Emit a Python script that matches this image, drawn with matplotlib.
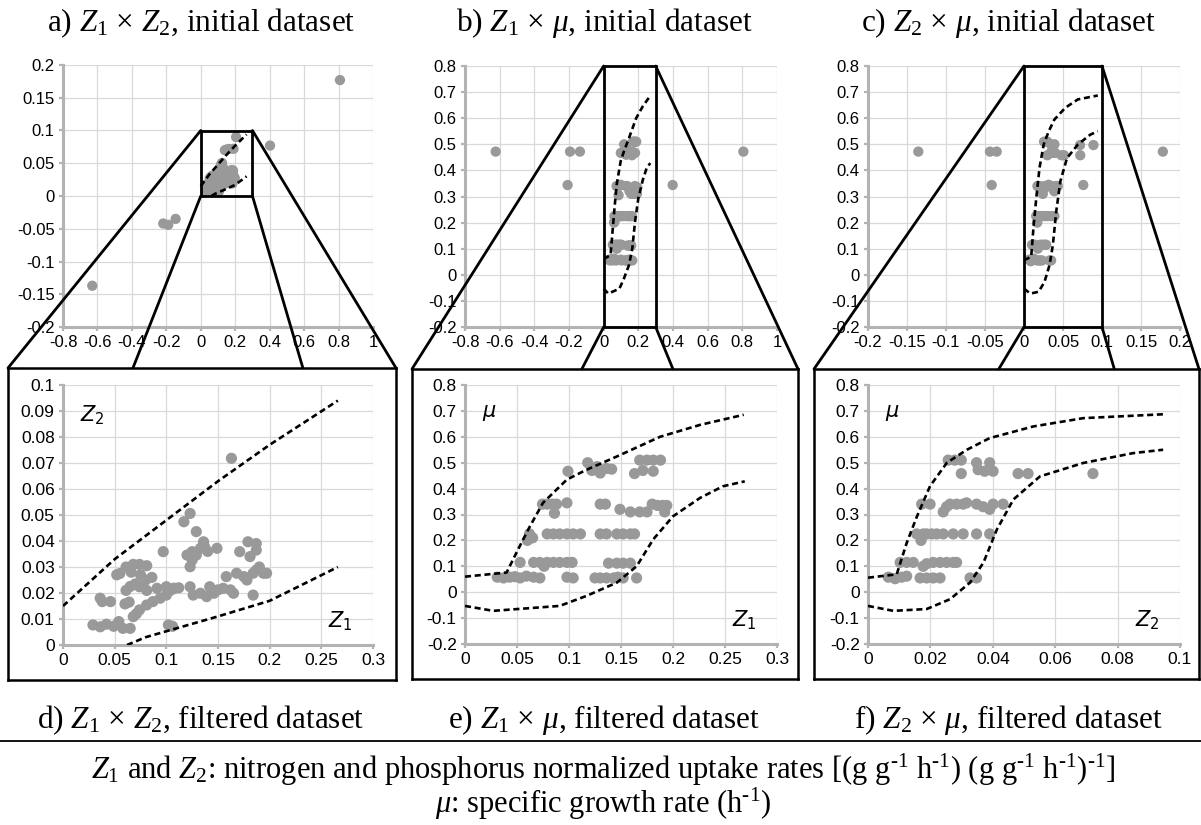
import matplotlib
matplotlib.use("Agg")
import matplotlib.pyplot as plt
from matplotlib.patches import Rectangle, ConnectionPatch
from matplotlib.lines import Line2D
from matplotlib.ticker import MultipleLocator, FuncFormatter

plt.rcParams.update({
    "font.family": "Liberation Sans",
    "mathtext.fontset": "custom",
    "mathtext.rm": "Liberation Serif",
    "mathtext.it": "Liberation Serif:italic",
    "mathtext.bf": "Liberation Serif:bold",
    "axes.unicode_minus": False,
})

# ---- filtered dataset ----
d_points = [  # (Z1, Z2)
    (0.029, 0.0077), (0.036, 0.0070), (0.042, 0.0080), (0.049, 0.0072), (0.054, 0.0090),
    (0.058, 0.0064), (0.065, 0.0064), (0.102, 0.0077), (0.106, 0.0072),
    (0.036, 0.0180), (0.038, 0.0167), (0.046, 0.0167), (0.060, 0.0158), (0.064, 0.0165),
    (0.052, 0.0270), (0.055, 0.0275), (0.061, 0.0300), (0.068, 0.0310), (0.074, 0.0310),
    (0.081, 0.0305), (0.086, 0.0260), (0.075, 0.0270), (0.080, 0.0250), (0.070, 0.0235),
    (0.066, 0.0280),
    (0.068, 0.0109), (0.071, 0.0120), (0.074, 0.0135), (0.081, 0.0154), (0.087, 0.0167),
    (0.094, 0.0180), (0.100, 0.0192), (0.107, 0.0218),
    (0.061, 0.0210), (0.065, 0.0225), (0.074, 0.0224), (0.081, 0.0210), (0.091, 0.0218),
    (0.100, 0.0224), (0.104, 0.0210), (0.108, 0.0218), (0.112, 0.0220),
    (0.097, 0.0359),
    (0.117, 0.0474), (0.123, 0.0506), (0.129, 0.0436),
    (0.120, 0.0346), (0.125, 0.0359), (0.123, 0.0301), (0.125, 0.0327), (0.129, 0.0346),
    (0.133, 0.0372), (0.136, 0.0397), (0.137, 0.0378), (0.140, 0.0360), (0.149, 0.0372),
    (0.123, 0.0224), (0.126, 0.0192), (0.133, 0.0199), (0.139, 0.0186), (0.142, 0.0224),
    (0.146, 0.0199), (0.150, 0.0212), (0.155, 0.0218), (0.162, 0.0212), (0.165, 0.0199),
    (0.158, 0.0263), (0.168, 0.0276), (0.175, 0.0263), (0.178, 0.0250), (0.184, 0.0276),
    (0.187, 0.0288), (0.194, 0.0276), (0.197, 0.0276), (0.190, 0.0300),
    (0.171, 0.0359), (0.179, 0.0397), (0.187, 0.0390), (0.181, 0.0340), (0.187, 0.0365),
    (0.184, 0.0192), (0.163, 0.0718),
]
e_points = [  # (Z1, mu)
    (0.031, 0.058), (0.037, 0.055), (0.043, 0.058), (0.048, 0.060), (0.053, 0.055),
    (0.059, 0.062), (0.066, 0.058), (0.072, 0.055), (0.098, 0.058), (0.104, 0.055),
    (0.125, 0.055), (0.130, 0.055), (0.136, 0.055), (0.143, 0.055), (0.147, 0.058),
    (0.152, 0.055), (0.165, 0.055),
    (0.053, 0.115), (0.066, 0.115), (0.072, 0.115), (0.076, 0.100), (0.079, 0.115),
    (0.085, 0.115), (0.091, 0.115), (0.098, 0.115), (0.103, 0.115), (0.138, 0.112),
    (0.146, 0.112), (0.152, 0.112), (0.159, 0.112),
    (0.060, 0.200), (0.062, 0.225), (0.065, 0.210), (0.079, 0.225), (0.085, 0.225),
    (0.091, 0.225), (0.098, 0.225), (0.104, 0.225), (0.111, 0.225), (0.130, 0.225),
    (0.136, 0.225), (0.146, 0.225), (0.152, 0.225), (0.159, 0.225), (0.163, 0.225),
    (0.0745, 0.340), (0.079, 0.340), (0.084, 0.340), (0.088, 0.340), (0.086, 0.305),
    (0.098, 0.345), (0.130, 0.340), (0.135, 0.340), (0.149, 0.320), (0.159, 0.310),
    (0.168, 0.310), (0.175, 0.310), (0.180, 0.340), (0.185, 0.335), (0.190, 0.335),
    (0.194, 0.335), (0.192, 0.310),
    (0.099, 0.467), (0.118, 0.500), (0.122, 0.470), (0.127, 0.485), (0.130, 0.460),
    (0.136, 0.478), (0.141, 0.475), (0.163, 0.458), (0.171, 0.470), (0.181, 0.467),
    (0.168, 0.510), (0.175, 0.510), (0.181, 0.510), (0.188, 0.510),
]
f_points = [  # (Z2, mu)
    (0.0065, 0.058), (0.0087, 0.052), (0.0108, 0.058), (0.0124, 0.062), (0.0167, 0.055),
    (0.0188, 0.055), (0.0209, 0.055), (0.0231, 0.055), (0.0327, 0.055), (0.0348, 0.055),
    (0.0103, 0.115), (0.0124, 0.115), (0.0145, 0.115), (0.0177, 0.100), (0.0188, 0.110),
    (0.0209, 0.115), (0.0231, 0.115), (0.0252, 0.115), (0.0273, 0.115), (0.0284, 0.115),
    (0.0156, 0.225), (0.0170, 0.200), (0.0177, 0.225), (0.0188, 0.225), (0.0204, 0.225),
    (0.0220, 0.225), (0.0241, 0.225), (0.0273, 0.225), (0.0305, 0.225), (0.0348, 0.225),
    (0.0390, 0.225),
    (0.0172, 0.340), (0.0199, 0.340), (0.0241, 0.310), (0.0252, 0.330), (0.0263, 0.340),
    (0.0284, 0.340), (0.0305, 0.340), (0.0316, 0.345), (0.0348, 0.340), (0.0369, 0.330),
    (0.0390, 0.320), (0.0401, 0.340), (0.0433, 0.340),
    (0.0257, 0.510), (0.0278, 0.510), (0.0299, 0.510), (0.0299, 0.458), (0.0348, 0.500),
    (0.0353, 0.473), (0.0374, 0.467), (0.0390, 0.500), (0.0401, 0.467), (0.0481, 0.458),
    (0.0513, 0.458), (0.0721, 0.458),
]

# ---- extra points that only exist in the initial dataset ----
a_outliers = [(0.808, 0.177), (0.402, 0.077), (-0.218, -0.042), (-0.189, -0.044),
              (-0.146, -0.035), (-0.630, -0.137), (0.140, 0.070), (0.150, 0.071),
              (0.190, 0.072), (0.205, 0.090)]
b_outliers = [(-0.623, 0.472), (-0.194, 0.472), (-0.137, 0.472), (-0.208, 0.344),
              (0.398, 0.344), (0.806, 0.472)]
c_outliers = [(-0.1355, 0.472), (-0.0436, 0.472), (-0.035, 0.472), (-0.0414, 0.344),
              (0.076, 0.344), (0.0718, 0.497), (0.089, 0.497), (0.178, 0.472)]

# ---- dashed envelope curves ----
z1z2_up_x = [0.0, 0.05, 0.10, 0.15, 0.20, 0.266]
z1z2_up_y = [0.015, 0.033, 0.048, 0.063, 0.077, 0.094]
z1z2_lo_x = [0.062, 0.08, 0.15, 0.20, 0.266]
z1z2_lo_y = [0.0, 0.003, 0.011, 0.017, 0.030]

z1mu_up_x = [0.0, 0.040, 0.051, 0.0625, 0.075, 0.098, 0.117, 0.146, 0.1875, 0.226, 0.268]
z1mu_up_y = [0.06, 0.076, 0.165, 0.255, 0.345, 0.435, 0.473, 0.524, 0.60, 0.646, 0.685]
z1mu_lo_x = [0.0, 0.027, 0.091, 0.117, 0.146, 0.165, 0.181, 0.20, 0.226, 0.248, 0.269]
z1mu_lo_y = [-0.053, -0.072, -0.053, -0.014, 0.037, 0.10, 0.204, 0.293, 0.364, 0.409, 0.428]

z2mu_up_x = [0.0, 0.0092, 0.0124, 0.0156, 0.0199, 0.0253, 0.0317, 0.039, 0.053, 0.069, 0.0946]
z2mu_up_y = [0.056, 0.069, 0.19, 0.29, 0.41, 0.50, 0.55, 0.595, 0.64, 0.672, 0.687]
z2mu_lo_x = [0.0, 0.0081, 0.0188, 0.0263, 0.0327, 0.037, 0.0413, 0.0466, 0.0551, 0.069, 0.085, 0.0946]
z2mu_lo_y = [-0.053, -0.072, -0.065, -0.027, 0.037, 0.114, 0.242, 0.358, 0.447, 0.499, 0.537, 0.55]

W, H = 1201, 825
fig = plt.figure(figsize=(W / 100, H / 100), dpi=100)
GRAY = "#999999"
AXC = "#b3b3b3"


def px_axes(l, t, r, b):
    return fig.add_axes([l / W, 1 - b / H, (r - l) / W, (b - t) / H])


def fmt(v, pos):
    v = round(v, 6)
    if abs(v) < 1e-9:
        return "0"
    return f"{v:g}"


def style(ax, xlim, xstep, ylim, ystep, fs):
    ax.set_xlim(xlim)
    ax.set_ylim(ylim)
    ax.xaxis.set_major_locator(MultipleLocator(xstep))
    ax.yaxis.set_major_locator(MultipleLocator(ystep))
    ax.xaxis.set_major_formatter(FuncFormatter(fmt))
    ax.yaxis.set_major_formatter(FuncFormatter(fmt))
    ax.grid(True, color="#d9d9d9", lw=0.9)
    ax.set_axisbelow(True)
    for s in ["top", "right"]:
        ax.spines[s].set_visible(False)
    for s in ["left", "bottom"]:
        ax.spines[s].set_color(AXC)
        ax.spines[s].set_linewidth(2.2)
    ax.tick_params(length=3, width=1.6, color=AXC, labelsize=fs, pad=3)


def dashed(ax, x, y):
    ax.plot(x, y, color="k", lw=1.9, ls=(0, (2.3, 1.4)), zorder=4)


def pts(ax, points, s):
    xs, ys = zip(*points)
    ax.scatter(xs, ys, s=s, color=GRAY, edgecolors="none", zorder=3)


def frame(l, t, r, b):
    fr = px_axes(l, t, r, b)
    fr.set_xticks([])
    fr.set_yticks([])
    fr.patch.set_alpha(0)
    for s in fr.spines.values():
        s.set_linewidth(1.8)
        s.set_color("k")
    fr.set_zorder(-1)
    return fr


# ---- top row: initial dataset ----
ax_a = px_axes(63, 65, 373, 327)
ax_b = px_axes(465, 66, 777, 327)
ax_c = px_axes(868, 66, 1180, 327)
style(ax_a, (-0.8, 1.0), 0.2, (-0.2, 0.2), 0.05, 12)
style(ax_b, (-0.8, 1.0), 0.2, (-0.2, 0.8), 0.1, 12)
style(ax_c, (-0.2, 0.2), 0.05, (-0.2, 0.8), 0.1, 12)
pts(ax_a, d_points + a_outliers, 55)
pts(ax_b, e_points + b_outliers, 55)
pts(ax_c, f_points + c_outliers, 55)
dashed(ax_a, z1z2_up_x, z1z2_up_y)
dashed(ax_a, z1z2_lo_x, z1z2_lo_y)
dashed(ax_b, z1mu_up_x, z1mu_up_y)
dashed(ax_b, z1mu_lo_x, z1mu_lo_y)
dashed(ax_c, z2mu_up_x, z2mu_up_y)
dashed(ax_c, z2mu_lo_x, z2mu_lo_y)

# ---- bottom row: filtered dataset ----
ax_d = px_axes(63, 385, 373, 645)
ax_e = px_axes(465, 385, 777, 644)
ax_f = px_axes(868, 385, 1180, 644)
style(ax_d, (0, 0.3), 0.05, (0, 0.1), 0.01, 12.5)
style(ax_e, (0, 0.3), 0.05, (-0.2, 0.8), 0.1, 12.5)
style(ax_f, (0, 0.1), 0.02, (-0.2, 0.8), 0.1, 12.5)
pts(ax_d, d_points, 65)
pts(ax_e, e_points, 65)
pts(ax_f, f_points, 65)
dashed(ax_d, z1z2_up_x, z1z2_up_y)
dashed(ax_d, z1z2_lo_x, z1z2_lo_y)
dashed(ax_e, z1mu_up_x, z1mu_up_y)
dashed(ax_e, z1mu_lo_x, z1mu_lo_y)
dashed(ax_f, z2mu_up_x, z2mu_up_y)
dashed(ax_f, z2mu_lo_x, z2mu_lo_y)

for ax, ylab, xlab in [(ax_d, r"$Z_2$", r"$Z_1$"), (ax_e, r"$\mu$", r"$Z_1$"),
                       (ax_f, r"$\mu$", r"$Z_2$")]:
    ax.text(0.055, 0.93, ylab, transform=ax.transAxes, fontsize=15,
            math_fontfamily="dejavusans", ha="left", va="top")
    ax.text(0.855, 0.045, xlab, transform=ax.transAxes, fontsize=15,
            math_fontfamily="dejavusans", ha="left", va="bottom")

# frames around the magnified panels and the zoom connectors
fr_d = frame(8, 368, 396, 680)
fr_e = frame(412, 369, 798, 679)
fr_f = frame(814, 369, 1199, 679)

zooms = [
    (ax_a, fr_d, (0, 0.3), (0, 0.1), (0.322, 0.76)),
    (ax_b, fr_e, (0, 0.3), (-0.2, 0.8), (0.44, 0.676)),
    (ax_c, fr_f, (0, 0.1), (-0.2, 0.8), (0.48, 0.78)),
]
for ax, fr, (x0, x1), (y0, y1), (f0, f1) in zooms:
    ax.add_patch(Rectangle((x0, y0), x1 - x0, y1 - y0, fill=False, ec="k", lw=2,
                           zorder=5, clip_on=False))
    for xy, fb in [((x0, y1), (0, 1)), ((x1, y1), (1, 1)),
                   ((x0, y0), (f0, 1)), ((x1, y0), (f1, 1))]:
        con = ConnectionPatch(xyA=xy, coordsA=ax.transData, xyB=fb,
                              coordsB=fr.transAxes, color="k", lw=2)
        fig.add_artist(con)

# ---- captions ----
serif = dict(family="Liberation Serif", fontsize=22.5, ha="center", va="baseline")
foot = dict(serif, fontsize=22)
Z1 = r"$\mathit{Z}_{\mathit{1}}$"
Z2 = r"$\mathit{Z}_{\mathit{2}}$"
MU = r"$\mu$"
top_titles = [(201, f"a) {Z1} × {Z2}, initial dataset"),
              (604, f"b) {Z1} × {MU}, initial dataset"),
              (1008, f"c) {Z2} × {MU}, initial dataset")]
bot_titles = [(201, f"d) {Z1} × {Z2}, filtered dataset"),
              (604, f"e) {Z1} × {MU}, filtered dataset"),
              (1008, f"f) {Z2} × {MU}, filtered dataset")]
for cx, t in top_titles:
    fig.text(cx / W, 1 - 31 / H, t, **serif)
for cx, t in bot_titles:
    fig.text(cx / W, 1 - 728 / H, t, **serif)

fig.add_artist(Line2D([0, 1], [1 - 741 / H, 1 - 741 / H], transform=fig.transFigure,
                      color="k", lw=1.3))
inv = "$^{\\mathrm{\u2010}\\mathrm{1}}$"
fig.text(603 / W, 1 - 779 / H,
         f"{Z1} and {Z2}: nitrogen and phosphorus normalized uptake rates "
         f"[(g g{inv} h{inv}) (g g{inv} h{inv}){inv}]", **foot)
fig.text(603 / W, 1 - 813 / H, f"{MU}: specific growth rate (h{inv})", **foot)

fig.savefig("out.png", dpi=100)
